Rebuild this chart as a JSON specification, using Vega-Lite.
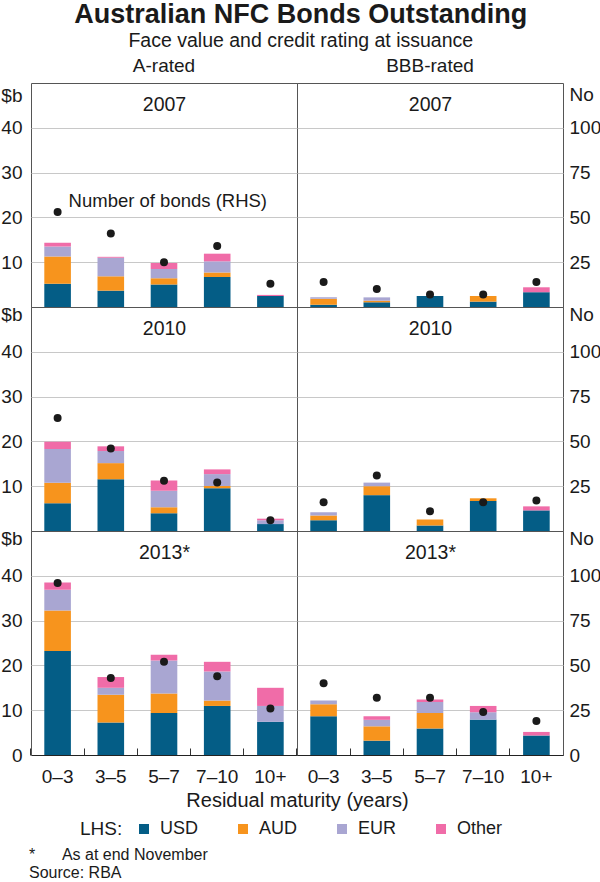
{
"$schema": "https://vega.github.io/schema/vega-lite/v6.json",
"padding": {"left": 0, "right": 0, "top": 1, "bottom": 0},
"title": {"text": "Australian NFC Bonds Outstanding", "subtitle": "Face value and credit rating at issuance", "fontSize": 27, "fontWeight": "bold", "subtitleFontSize": 19.5, "subtitleColor": "#1a1a1a", "subtitlePadding": 3, "anchor": "middle", "offset": 5},
"datasets": {
"bonds": [
{"rating":"A","year":"2007","maturity":"0–3","currency":"USD","value":5.2},
{"rating":"A","year":"2007","maturity":"0–3","currency":"AUD","value":6.1},
{"rating":"A","year":"2007","maturity":"0–3","currency":"EUR","value":2.2},
{"rating":"A","year":"2007","maturity":"0–3","currency":"Other","value":0.85},
{"rating":"A","year":"2007","maturity":"3–5","currency":"USD","value":3.65},
{"rating":"A","year":"2007","maturity":"3–5","currency":"AUD","value":3.2},
{"rating":"A","year":"2007","maturity":"3–5","currency":"EUR","value":4.15},
{"rating":"A","year":"2007","maturity":"3–5","currency":"Other","value":0.2},
{"rating":"A","year":"2007","maturity":"5–7","currency":"USD","value":5.05},
{"rating":"A","year":"2007","maturity":"5–7","currency":"AUD","value":1.35},
{"rating":"A","year":"2007","maturity":"5–7","currency":"EUR","value":2.1},
{"rating":"A","year":"2007","maturity":"5–7","currency":"Other","value":1.3},
{"rating":"A","year":"2007","maturity":"7–10","currency":"USD","value":6.7},
{"rating":"A","year":"2007","maturity":"7–10","currency":"AUD","value":1.0},
{"rating":"A","year":"2007","maturity":"7–10","currency":"EUR","value":2.5},
{"rating":"A","year":"2007","maturity":"7–10","currency":"Other","value":1.7},
{"rating":"A","year":"2007","maturity":"10+","currency":"USD","value":2.45},
{"rating":"A","year":"2007","maturity":"10+","currency":"Other","value":0.25},
{"rating":"BBB","year":"2007","maturity":"0–3","currency":"USD","value":0.5},
{"rating":"BBB","year":"2007","maturity":"0–3","currency":"AUD","value":1.35},
{"rating":"BBB","year":"2007","maturity":"0–3","currency":"EUR","value":0.35},
{"rating":"BBB","year":"2007","maturity":"3–5","currency":"USD","value":1.05},
{"rating":"BBB","year":"2007","maturity":"3–5","currency":"AUD","value":0.35},
{"rating":"BBB","year":"2007","maturity":"3–5","currency":"EUR","value":0.75},
{"rating":"BBB","year":"2007","maturity":"5–7","currency":"USD","value":2.45},
{"rating":"BBB","year":"2007","maturity":"7–10","currency":"USD","value":1.2},
{"rating":"BBB","year":"2007","maturity":"7–10","currency":"AUD","value":1.25},
{"rating":"BBB","year":"2007","maturity":"10+","currency":"USD","value":3.3},
{"rating":"BBB","year":"2007","maturity":"10+","currency":"Other","value":1.1},
{"rating":"A","year":"2010","maturity":"0–3","currency":"USD","value":6.2},
{"rating":"A","year":"2010","maturity":"0–3","currency":"AUD","value":4.55},
{"rating":"A","year":"2010","maturity":"0–3","currency":"EUR","value":7.55},
{"rating":"A","year":"2010","maturity":"0–3","currency":"Other","value":1.6},
{"rating":"A","year":"2010","maturity":"3–5","currency":"USD","value":11.55},
{"rating":"A","year":"2010","maturity":"3–5","currency":"AUD","value":3.6},
{"rating":"A","year":"2010","maturity":"3–5","currency":"EUR","value":2.7},
{"rating":"A","year":"2010","maturity":"3–5","currency":"Other","value":1.05},
{"rating":"A","year":"2010","maturity":"5–7","currency":"USD","value":3.95},
{"rating":"A","year":"2010","maturity":"5–7","currency":"AUD","value":1.35},
{"rating":"A","year":"2010","maturity":"5–7","currency":"EUR","value":3.7},
{"rating":"A","year":"2010","maturity":"5–7","currency":"Other","value":2.25},
{"rating":"A","year":"2010","maturity":"7–10","currency":"USD","value":9.55},
{"rating":"A","year":"2010","maturity":"7–10","currency":"AUD","value":0.5},
{"rating":"A","year":"2010","maturity":"7–10","currency":"EUR","value":2.65},
{"rating":"A","year":"2010","maturity":"7–10","currency":"Other","value":1.05},
{"rating":"A","year":"2010","maturity":"10+","currency":"USD","value":1.55},
{"rating":"A","year":"2010","maturity":"10+","currency":"EUR","value":0.85},
{"rating":"A","year":"2010","maturity":"10+","currency":"Other","value":0.35},
{"rating":"BBB","year":"2010","maturity":"0–3","currency":"USD","value":2.4},
{"rating":"BBB","year":"2010","maturity":"0–3","currency":"AUD","value":1.05},
{"rating":"BBB","year":"2010","maturity":"0–3","currency":"EUR","value":0.75},
{"rating":"BBB","year":"2010","maturity":"3–5","currency":"USD","value":8.0},
{"rating":"BBB","year":"2010","maturity":"3–5","currency":"AUD","value":2.0},
{"rating":"BBB","year":"2010","maturity":"3–5","currency":"EUR","value":0.8},
{"rating":"BBB","year":"2010","maturity":"5–7","currency":"USD","value":1.25},
{"rating":"BBB","year":"2010","maturity":"5–7","currency":"AUD","value":1.3},
{"rating":"BBB","year":"2010","maturity":"7–10","currency":"USD","value":6.7},
{"rating":"BBB","year":"2010","maturity":"7–10","currency":"AUD","value":0.6},
{"rating":"BBB","year":"2010","maturity":"10+","currency":"USD","value":4.6},
{"rating":"BBB","year":"2010","maturity":"10+","currency":"Other","value":0.9},
{"rating":"A","year":"2013","maturity":"0–3","currency":"USD","value":23.2},
{"rating":"A","year":"2013","maturity":"0–3","currency":"AUD","value":9.05},
{"rating":"A","year":"2013","maturity":"0–3","currency":"EUR","value":4.65},
{"rating":"A","year":"2013","maturity":"0–3","currency":"Other","value":1.6},
{"rating":"A","year":"2013","maturity":"3–5","currency":"USD","value":7.25},
{"rating":"A","year":"2013","maturity":"3–5","currency":"AUD","value":6.2},
{"rating":"A","year":"2013","maturity":"3–5","currency":"EUR","value":1.55},
{"rating":"A","year":"2013","maturity":"3–5","currency":"Other","value":2.4},
{"rating":"A","year":"2013","maturity":"5–7","currency":"USD","value":9.35},
{"rating":"A","year":"2013","maturity":"5–7","currency":"AUD","value":4.4},
{"rating":"A","year":"2013","maturity":"5–7","currency":"EUR","value":7.35},
{"rating":"A","year":"2013","maturity":"5–7","currency":"Other","value":1.3},
{"rating":"A","year":"2013","maturity":"7–10","currency":"USD","value":10.95},
{"rating":"A","year":"2013","maturity":"7–10","currency":"AUD","value":1.2},
{"rating":"A","year":"2013","maturity":"7–10","currency":"EUR","value":6.5},
{"rating":"A","year":"2013","maturity":"7–10","currency":"Other","value":2.15},
{"rating":"A","year":"2013","maturity":"10+","currency":"USD","value":7.4},
{"rating":"A","year":"2013","maturity":"10+","currency":"EUR","value":3.55},
{"rating":"A","year":"2013","maturity":"10+","currency":"Other","value":4.05},
{"rating":"BBB","year":"2013","maturity":"0–3","currency":"USD","value":8.65},
{"rating":"BBB","year":"2013","maturity":"0–3","currency":"AUD","value":2.7},
{"rating":"BBB","year":"2013","maturity":"0–3","currency":"EUR","value":0.8},
{"rating":"BBB","year":"2013","maturity":"3–5","currency":"USD","value":3.2},
{"rating":"BBB","year":"2013","maturity":"3–5","currency":"AUD","value":3.2},
{"rating":"BBB","year":"2013","maturity":"3–5","currency":"EUR","value":1.45},
{"rating":"BBB","year":"2013","maturity":"3–5","currency":"Other","value":0.8},
{"rating":"BBB","year":"2013","maturity":"5–7","currency":"USD","value":5.9},
{"rating":"BBB","year":"2013","maturity":"5–7","currency":"AUD","value":3.5},
{"rating":"BBB","year":"2013","maturity":"5–7","currency":"EUR","value":2.45},
{"rating":"BBB","year":"2013","maturity":"5–7","currency":"Other","value":0.55},
{"rating":"BBB","year":"2013","maturity":"7–10","currency":"USD","value":7.9},
{"rating":"BBB","year":"2013","maturity":"7–10","currency":"EUR","value":1.65},
{"rating":"BBB","year":"2013","maturity":"7–10","currency":"Other","value":1.4},
{"rating":"BBB","year":"2013","maturity":"10+","currency":"USD","value":4.35},
{"rating":"BBB","year":"2013","maturity":"10+","currency":"Other","value":0.8}
],
"counts": [
{"rating":"A","year":"2007","maturity":"0–3","count":53},
{"rating":"A","year":"2007","maturity":"3–5","count":41},
{"rating":"A","year":"2007","maturity":"5–7","count":25},
{"rating":"A","year":"2007","maturity":"7–10","count":34},
{"rating":"A","year":"2007","maturity":"10+","count":13},
{"rating":"BBB","year":"2007","maturity":"0–3","count":14},
{"rating":"BBB","year":"2007","maturity":"3–5","count":10},
{"rating":"BBB","year":"2007","maturity":"5–7","count":7},
{"rating":"BBB","year":"2007","maturity":"7–10","count":7},
{"rating":"BBB","year":"2007","maturity":"10+","count":14},
{"rating":"A","year":"2010","maturity":"0–3","count":63},
{"rating":"A","year":"2010","maturity":"3–5","count":46},
{"rating":"A","year":"2010","maturity":"5–7","count":28},
{"rating":"A","year":"2010","maturity":"7–10","count":27},
{"rating":"A","year":"2010","maturity":"10+","count":6},
{"rating":"BBB","year":"2010","maturity":"0–3","count":16},
{"rating":"BBB","year":"2010","maturity":"3–5","count":31},
{"rating":"BBB","year":"2010","maturity":"5–7","count":11},
{"rating":"BBB","year":"2010","maturity":"7–10","count":16},
{"rating":"BBB","year":"2010","maturity":"10+","count":17},
{"rating":"A","year":"2013","maturity":"0–3","count":96},
{"rating":"A","year":"2013","maturity":"3–5","count":43},
{"rating":"A","year":"2013","maturity":"5–7","count":52},
{"rating":"A","year":"2013","maturity":"7–10","count":44},
{"rating":"A","year":"2013","maturity":"10+","count":26},
{"rating":"BBB","year":"2013","maturity":"0–3","count":40},
{"rating":"BBB","year":"2013","maturity":"3–5","count":32},
{"rating":"BBB","year":"2013","maturity":"5–7","count":32},
{"rating":"BBB","year":"2013","maturity":"7–10","count":24},
{"rating":"BBB","year":"2013","maturity":"10+","count":19}
]
},
"columns": 2,
"bounds": "flush",
"spacing": 0,
"resolve": {"scale": {"color": "shared", "x": "independent", "y": "independent"}, "legend": {"color": "shared"}},
"concat": [
{
"width": 266, "height": 224,
"title": {"text": "A-rated", "fontSize": 19, "fontWeight": "normal", "offset": 7, "frame": "group"},
"layer": [
{"data": {"name": "bonds"}, "transform": [{"filter": "datum.rating === 'A' && datum.year === '2007'"}],
"mark": {"type": "bar"},
"encoding": {
"x": {"field": "maturity", "type": "ordinal", "sort": ["0–3","3–5","5–7","7–10","10+"], "scale": {"paddingInner": 0.5, "paddingOuter": 0.25}, "axis": {"orient": "top", "title": "2007", "labels": false, "ticks": false, "domain": false, "titleY": 21, "titleBaseline": "middle", "titleFontSize": 19.5}},
"y": {"field": "value", "type": "quantitative", "stack": "zero", "scale": {"domain": [0, 50], "nice": false}, "axis": {"orient": "left", "values": [10,20,30,40], "title": "$b", "titleAngle": 0, "titleAlign": "right", "titleBaseline": "middle", "titleX": -9, "titleY": 12, "titleFontSize": 19, "labelPadding": 9, "ticks": false, "domain": false, "grid": true}},
"color": {"field": "currency", "type": "nominal", "sort": ["USD","AUD","EUR","Other"], "scale": {"domain": ["USD","AUD","EUR","Other"], "range": ["#045d86","#f7941d","#a9a6d2","#f06ca8"]}, "legend": {"title": "LHS:"}},
"order": {"field": "year"}
}},
{"data": {"name": "counts"}, "transform": [{"filter": "datum.rating === 'A' && datum.year === '2007'"}],
"mark": {"type": "circle", "size": 64, "color": "#1a1a1a", "opacity": 1},
"encoding": {
"x": {"field": "maturity", "type": "ordinal", "sort": ["0–3","3–5","5–7","7–10","10+"], "axis": null},
"y": {"field": "count", "type": "quantitative", "scale": {"domain": [0, 125], "nice": false}, "axis": null}
}},
{"data": {"name": "counts"}, "transform": [{"filter": "datum.rating === 'A' && datum.year === '2007' && datum.maturity === '0–3'"}],
"mark": {"type": "text", "text": "Number of bonds (RHS)", "align": "left", "baseline": "middle", "dx": 11, "dy": -11, "fontSize": 18.5, "color": "#1a1a1a"},
"encoding": {
"x": {"field": "maturity", "type": "ordinal", "sort": ["0–3","3–5","5–7","7–10","10+"], "axis": null},
"y": {"field": "count", "type": "quantitative", "scale": {"domain": [0, 125], "nice": false}, "axis": null}
}}
],
"resolve": {"scale": {"y": "independent"}, "axis": {"x": "independent", "y": "independent"}}
},
{
"width": 266, "height": 224,
"title": {"text": "BBB-rated", "fontSize": 19, "fontWeight": "normal", "offset": 7, "frame": "group"},
"layer": [
{"data": {"name": "bonds"}, "transform": [{"filter": "datum.rating === 'BBB' && datum.year === '2007'"}],
"mark": {"type": "bar"},
"encoding": {
"x": {"field": "maturity", "type": "ordinal", "sort": ["0–3","3–5","5–7","7–10","10+"], "scale": {"paddingInner": 0.5, "paddingOuter": 0.25}, "axis": {"orient": "top", "title": "2007", "labels": false, "ticks": false, "domain": false, "titleY": 21, "titleBaseline": "middle", "titleFontSize": 19.5}},
"y": {"field": "value", "type": "quantitative", "stack": "zero", "scale": {"domain": [0, 50], "nice": false}, "axis": {"orient": "left", "values": [10,20,30,40], "labels": false, "ticks": false, "domain": false, "title": null, "grid": true}},
"color": {"field": "currency", "type": "nominal", "sort": ["USD","AUD","EUR","Other"], "scale": {"domain": ["USD","AUD","EUR","Other"], "range": ["#045d86","#f7941d","#a9a6d2","#f06ca8"]}, "legend": {"title": "LHS:"}},
"order": {"field": "year"}
}},
{"data": {"name": "counts"}, "transform": [{"filter": "datum.rating === 'BBB' && datum.year === '2007'"}],
"mark": {"type": "circle", "size": 64, "color": "#1a1a1a", "opacity": 1},
"encoding": {
"x": {"field": "maturity", "type": "ordinal", "sort": ["0–3","3–5","5–7","7–10","10+"], "axis": null},
"y": {"field": "count", "type": "quantitative", "scale": {"domain": [0, 125], "nice": false}, "axis": {"orient": "right", "values": [25,50,75,100], "title": "No", "titleAngle": 0, "titleAlign": "left", "titleBaseline": "middle", "titleX": 6, "titleY": 11, "titleFontSize": 19, "labelPadding": 6, "ticks": false, "domain": false, "grid": false}}
}}
],
"resolve": {"scale": {"y": "independent"}, "axis": {"x": "independent", "y": "independent"}}
},
{
"width": 266, "height": 224,
"layer": [
{"data": {"name": "bonds"}, "transform": [{"filter": "datum.rating === 'A' && datum.year === '2010'"}],
"mark": {"type": "bar"},
"encoding": {
"x": {"field": "maturity", "type": "ordinal", "sort": ["0–3","3–5","5–7","7–10","10+"], "scale": {"paddingInner": 0.5, "paddingOuter": 0.25}, "axis": {"orient": "top", "title": "2010", "labels": false, "ticks": false, "domain": false, "titleY": 21, "titleBaseline": "middle", "titleFontSize": 19.5}},
"y": {"field": "value", "type": "quantitative", "stack": "zero", "scale": {"domain": [0, 50], "nice": false}, "axis": {"orient": "left", "values": [10,20,30,40], "title": "$b", "titleAngle": 0, "titleAlign": "right", "titleBaseline": "middle", "titleX": -9, "titleY": 7, "titleFontSize": 19, "labelPadding": 9, "ticks": false, "domain": false, "grid": true}},
"color": {"field": "currency", "type": "nominal", "sort": ["USD","AUD","EUR","Other"], "scale": {"domain": ["USD","AUD","EUR","Other"], "range": ["#045d86","#f7941d","#a9a6d2","#f06ca8"]}, "legend": {"title": "LHS:"}},
"order": {"field": "year"}
}},
{"data": {"name": "counts"}, "transform": [{"filter": "datum.rating === 'A' && datum.year === '2010'"}],
"mark": {"type": "circle", "size": 64, "color": "#1a1a1a", "opacity": 1},
"encoding": {
"x": {"field": "maturity", "type": "ordinal", "sort": ["0–3","3–5","5–7","7–10","10+"], "axis": null},
"y": {"field": "count", "type": "quantitative", "scale": {"domain": [0, 125], "nice": false}, "axis": null}
}}
],
"resolve": {"scale": {"y": "independent"}, "axis": {"x": "independent", "y": "independent"}}
},
{
"width": 266, "height": 224,
"layer": [
{"data": {"name": "bonds"}, "transform": [{"filter": "datum.rating === 'BBB' && datum.year === '2010'"}],
"mark": {"type": "bar"},
"encoding": {
"x": {"field": "maturity", "type": "ordinal", "sort": ["0–3","3–5","5–7","7–10","10+"], "scale": {"paddingInner": 0.5, "paddingOuter": 0.25}, "axis": {"orient": "top", "title": "2010", "labels": false, "ticks": false, "domain": false, "titleY": 21, "titleBaseline": "middle", "titleFontSize": 19.5}},
"y": {"field": "value", "type": "quantitative", "stack": "zero", "scale": {"domain": [0, 50], "nice": false}, "axis": {"orient": "left", "values": [10,20,30,40], "labels": false, "ticks": false, "domain": false, "title": null, "grid": true}},
"color": {"field": "currency", "type": "nominal", "sort": ["USD","AUD","EUR","Other"], "scale": {"domain": ["USD","AUD","EUR","Other"], "range": ["#045d86","#f7941d","#a9a6d2","#f06ca8"]}, "legend": {"title": "LHS:"}},
"order": {"field": "year"}
}},
{"data": {"name": "counts"}, "transform": [{"filter": "datum.rating === 'BBB' && datum.year === '2010'"}],
"mark": {"type": "circle", "size": 64, "color": "#1a1a1a", "opacity": 1},
"encoding": {
"x": {"field": "maturity", "type": "ordinal", "sort": ["0–3","3–5","5–7","7–10","10+"], "axis": null},
"y": {"field": "count", "type": "quantitative", "scale": {"domain": [0, 125], "nice": false}, "axis": {"orient": "right", "values": [25,50,75,100], "title": "No", "titleAngle": 0, "titleAlign": "left", "titleBaseline": "middle", "titleX": 6, "titleY": 7, "titleFontSize": 19, "labelPadding": 6, "ticks": false, "domain": false, "grid": false}}
}}
],
"resolve": {"scale": {"y": "independent"}, "axis": {"x": "independent", "y": "independent"}}
},
{
"width": 266, "height": 224,
"title": {"text": ["*\u00a0\u00a0\u00a0\u00a0\u00a0\u00a0As at end November", "Source: RBA"], "orient": "bottom", "anchor": "start", "frame": "group", "fontSize": 16, "fontWeight": "normal", "offset": 37, "lineHeight": 18, "dx": -2, "color": "#1a1a1a"},
"layer": [
{"data": {"name": "bonds"}, "transform": [{"filter": "datum.rating === 'A' && datum.year === '2013'"}],
"mark": {"type": "bar"},
"encoding": {
"x": {"field": "maturity", "type": "ordinal", "sort": ["0–3","3–5","5–7","7–10","10+"], "scale": {"paddingInner": 0.5, "paddingOuter": 0.25}, "axis": {"orient": "top", "title": "2013*", "labels": false, "ticks": false, "domain": false, "titleY": 21, "titleBaseline": "middle", "titleFontSize": 19.5}},
"y": {"field": "value", "type": "quantitative", "stack": "zero", "scale": {"domain": [0, 50], "nice": false}, "axis": {"orient": "left", "values": [0,10,20,30,40], "title": "$b", "titleAngle": 0, "titleAlign": "right", "titleBaseline": "middle", "titleX": -9, "titleY": 7, "titleFontSize": 19, "labelPadding": 9, "ticks": false, "domain": false, "grid": true}},
"color": {"field": "currency", "type": "nominal", "sort": ["USD","AUD","EUR","Other"], "scale": {"domain": ["USD","AUD","EUR","Other"], "range": ["#045d86","#f7941d","#a9a6d2","#f06ca8"]}, "legend": {"title": "LHS:"}},
"order": {"field": "year"}
}},
{"data": {"name": "counts"}, "transform": [{"filter": "datum.rating === 'A' && datum.year === '2013'"}],
"mark": {"type": "circle", "size": 64, "color": "#1a1a1a", "opacity": 1},
"encoding": {
"x": {"field": "maturity", "type": "ordinal", "sort": ["0–3","3–5","5–7","7–10","10+"], "axis": {"orient": "bottom", "labelAngle": 0, "labelFontSize": 19, "labelPadding": 19, "tickSize": -7, "bandPosition": -0.5, "tickColor": "#333", "domainColor": "#222", "title": "Residual maturity (years)", "titleX": 266, "titleFontSize": 20, "titlePadding": 4}},
"y": {"field": "count", "type": "quantitative", "scale": {"domain": [0, 125], "nice": false}, "axis": null}
}}
],
"resolve": {"scale": {"y": "independent"}, "axis": {"x": "independent", "y": "independent"}}
},
{
"width": 266, "height": 224,
"layer": [
{"data": {"name": "bonds"}, "transform": [{"filter": "datum.rating === 'BBB' && datum.year === '2013'"}],
"mark": {"type": "bar"},
"encoding": {
"x": {"field": "maturity", "type": "ordinal", "sort": ["0–3","3–5","5–7","7–10","10+"], "scale": {"paddingInner": 0.5, "paddingOuter": 0.25}, "axis": {"orient": "top", "title": "2013*", "labels": false, "ticks": false, "domain": false, "titleY": 21, "titleBaseline": "middle", "titleFontSize": 19.5}},
"y": {"field": "value", "type": "quantitative", "stack": "zero", "scale": {"domain": [0, 50], "nice": false}, "axis": {"orient": "left", "values": [10,20,30,40], "labels": false, "ticks": false, "domain": false, "title": null, "grid": true}},
"color": {"field": "currency", "type": "nominal", "sort": ["USD","AUD","EUR","Other"], "scale": {"domain": ["USD","AUD","EUR","Other"], "range": ["#045d86","#f7941d","#a9a6d2","#f06ca8"]}, "legend": {"title": "LHS:"}},
"order": {"field": "year"}
}},
{"data": {"name": "counts"}, "transform": [{"filter": "datum.rating === 'BBB' && datum.year === '2013'"}],
"mark": {"type": "circle", "size": 64, "color": "#1a1a1a", "opacity": 1},
"encoding": {
"x": {"field": "maturity", "type": "ordinal", "sort": ["0–3","3–5","5–7","7–10","10+"], "axis": {"orient": "bottom", "labelAngle": 0, "labelFontSize": 19, "labelPadding": 19, "tickSize": -7, "bandPosition": -0.5, "tickColor": "#333", "domainColor": "#222", "title": null}},
"y": {"field": "count", "type": "quantitative", "scale": {"domain": [0, 125], "nice": false}, "axis": {"orient": "right", "values": [0,25,50,75,100], "title": "No", "titleAngle": 0, "titleAlign": "left", "titleBaseline": "middle", "titleX": 6, "titleY": 7, "titleFontSize": 19, "labelPadding": 6, "ticks": false, "domain": false, "grid": false}}
}}
],
"resolve": {"scale": {"y": "independent"}, "axis": {"x": "independent", "y": "independent"}}
}
],
"config": {
"font": "Liberation Sans",
"view": {"stroke": "#555", "strokeWidth": 1},
"axis": {"labelColor": "#1a1a1a", "titleColor": "#1a1a1a", "labelFontSize": 19, "titleFontWeight": "normal", "gridColor": "#c8c8c8", "gridWidth": 1},
"title": {"color": "#1a1a1a"},
"legend": {"orient": "none", "legendX": 49, "legendY": 737, "direction": "horizontal", "titleOrient": "left", "titleFontSize": 19, "titleFontWeight": "normal", "titleColor": "#1a1a1a", "titlePadding": 12, "labelFontSize": 18, "labelColor": "#1a1a1a", "labelOffset": 7, "symbolType": "square", "symbolSize": 100, "symbolStrokeWidth": 0, "symbolOpacity": 1, "columnPadding": 28, "gridAlign": "all"}
}
}
